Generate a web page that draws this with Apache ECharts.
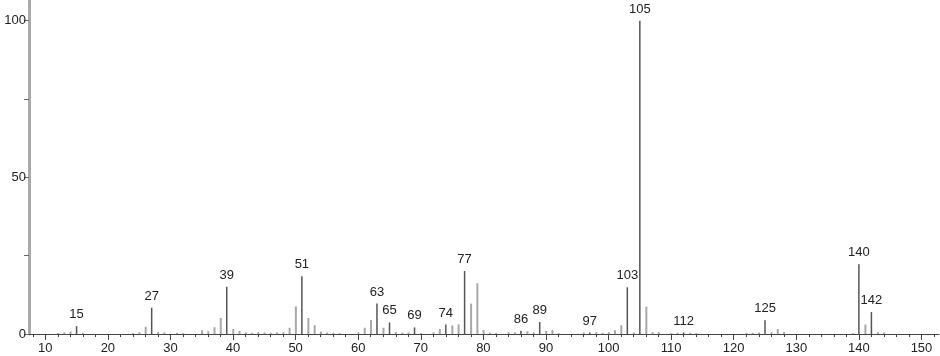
<!DOCTYPE html>
<html>
<head>
<meta charset="utf-8">
<script src="https://cdn.jsdelivr.net/npm/echarts@6/dist/echarts.min.js"></script>
<style>html,body{margin:0;padding:0;background:#fff}#c{width:940px;height:356px}</style>
</head>
<body>
<div id="c"></div>
<script>
// m/z values and relative intensities (%)
const masses = [12,13,14,15,16,24,25,26,27,28,29,31,32,35,36,37,38,39,40,41,42,43,44,45,46,47,48,49,50,51,52,53,54,55,56,57,60,61,62,63,64,65,66,67,68,69,70,72,73,74,75,76,77,78,79,80,81,82,84,85,86,87,88,89,90,91,92,96,97,98,99,100,101,102,103,104,105,106,107,108,110,111,112,113,114,122,123,124,125,126,127,128,139,140,141,142,143,144];
const intensities = [0.3,0.5,0.8,2.5,0.3,0.3,0.6,2.3,8.4,0.6,0.5,0.4,0.3,1.2,0.9,2.2,5.1,15.1,1.6,1.0,0.5,0.4,0.6,0.5,0.4,0.5,0.5,2.0,8.8,18.4,5.1,2.8,0.8,0.5,0.4,0.3,0.5,2.0,4.5,9.7,2.0,3.7,0.6,0.4,0.5,2.1,0.3,0.5,1.6,3.0,2.7,3.1,20.1,9.7,16.2,1.3,0.4,0.3,0.5,0.5,1.0,0.9,0.5,3.8,1.0,1.3,0.3,0.5,0.5,0.6,0.4,0.6,1.2,2.8,14.9,0.5,100,8.7,0.6,0.6,0.3,0.4,0.5,0.4,0.3,0.3,0.4,0.5,4.4,0.5,1.6,0.6,0.3,22.3,3.0,7.0,0.6,0.5];
const labeledMasses = [15,27,39,51,63,65,69,74,77,86,89,97,103,105,112,125,140,142];
const xTickLabels = [10,20,30,40,50,60,70,80,90,100,110,120,130,140,150];
const xMinorTicks = [];
for (let v = 8; v <= 152; v += 2) xMinorTicks.push(v);
const yTicks = [0,25,50,75,100];
const yTickLabels = [0,50,100];

const labeledData = [], otherData = [];
masses.forEach((m, i) => {
  if (labeledMasses.includes(m)) labeledData.push([m, intensities[i]]);
  else otherData.push([m, intensities[i]]);
});

const FONT = 'Liberation Sans';
const X_MIN = 7.4, X_MAX = 152.8;
const chart = echarts.init(document.getElementById('c'), null, {renderer: 'canvas'});
chart.setOption({
  animation: false,
  grid: {left: 29, right: 1, top: 0, bottom: 22, outerBoundsMode: 'none', containLabel: false},
  xAxis: [{
    type: 'value', min: X_MIN, max: X_MAX,
    axisLine: {show: true, lineStyle: {color: '#444', width: 1}},
    axisTick: {show: true, length: 6, lineStyle: {color: '#444'}, customValues: xTickLabels},
    axisLabel: {show: true, customValues: xTickLabels, margin: 8, fontFamily: FONT, fontSize: 13, color: '#222'},
    splitLine: {show: false}
  }, {
    type: 'value', min: X_MIN, max: X_MAX, position: 'bottom',
    axisLine: {show: false},
    axisTick: {show: true, length: 3, lineStyle: {color: '#444'}, customValues: xMinorTicks},
    axisLabel: {show: false},
    splitLine: {show: false}
  }],
  yAxis: {
    type: 'value', min: 0, max: 106.6,
    axisLine: {show: true, lineStyle: {color: '#aaa', width: 3}},
    axisTick: {show: true, length: 5, lineStyle: {color: '#666'}, customValues: yTicks},
    axisLabel: {show: true, customValues: yTickLabels, margin: 3, fontFamily: FONT, fontSize: 13, color: '#222'},
    splitLine: {show: false}
  },
  series: [{
    type: 'bar', xAxisIndex: 0, data: otherData, barWidth: 2, barGap: '-100%',
    itemStyle: {color: '#a8a8a8'}, silent: true
  }, {
    type: 'bar', xAxisIndex: 0, data: labeledData, barWidth: 1.5, barGap: '-100%',
    itemStyle: {color: '#555'}, silent: true,
    label: {show: true, position: 'top', distance: 5, fontFamily: FONT, fontSize: 13, color: '#222',
      formatter: p => String(p.value[0])}
  }]
});
</script>
</body>
</html>
